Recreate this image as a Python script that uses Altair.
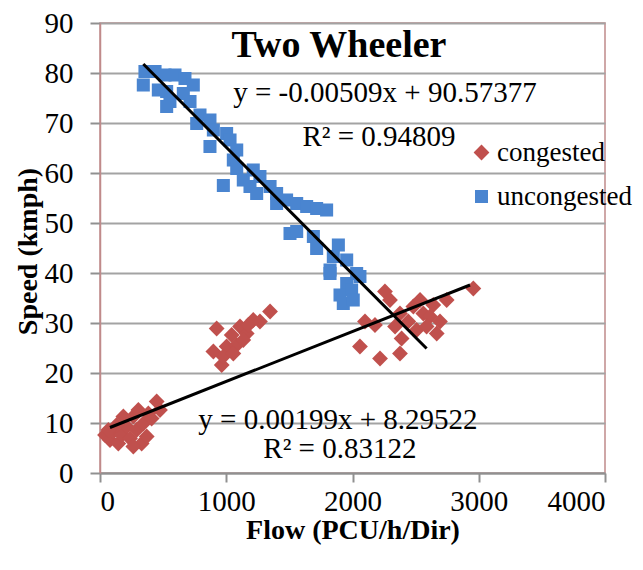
import altair as alt
import pandas as pd

# ---- data ----
unc_flow = [356, 343, 436, 515, 594, 673, 739, 528, 554, 528, 660, 713, 462,
            792, 766, 871, 898, 1003, 1030, 871, 1083, 1056, 1083, 977, 1135,
            1214, 1267, 1188, 1241, 1347, 1399, 1478, 1558, 1637, 1716, 1795,
            1399, 1505, 1558, 1690, 1716, 1888, 1822, 1954, 2033, 1848, 1822,
            1954, 2059, 1901, 1993, 1927, 2006]
unc_speed = [80.3, 77.6, 80.3, 79.6, 79.6, 78.9, 77.6, 76.3, 74.3, 73.3, 75.9, 74.3, 76.6,
             71.6, 69.9, 70.6, 68.6, 67.9, 66.6, 65.3, 64.6, 62.6, 60.9, 57.5, 58.6,
             60.6, 59.3, 57.3, 55.9, 57.3, 55.9, 54.6, 53.9, 53.3, 52.9, 52.6,
             53.9, 47.9, 48.3, 47.3, 44.9, 45.6, 40.6, 42.6, 39.9, 43.3, 39.9,
             37.9, 39.3, 35.6, 36.6, 33.9, 34.6]

con_flow = [40, 79, 106, 145, 172, 211, 238, 264, 290, 330, 343, 383, 409, 449,
            475, 185, 132, 264, 370, 304, 66,
            924, 898, 964, 1003, 1043, 1083, 1109, 1162, 1214, 1347, 1135, 977,
            1056, 1175, 1267,
            2059, 2099, 2178, 2218, 2257, 2297, 2376, 2389, 2442, 2482, 2535,
            2561, 2614, 2640, 2667, 2693, 2746, 2957, 2508, 2376, 2587, 2337]
con_speed = [7.6, 6.6, 8.3, 5.9, 7.6, 9.3, 6.9, 11.3, 8.6, 5.9, 9.9, 11.9, 10.9, 14.3,
             12.6, 11.3, 9.6, 5.3, 7.3, 12.6, 8.6,
             28.9, 24.3, 21.6, 25.3, 27.6, 25.6, 29.3, 27.9, 30.6, 32.3, 26.6, 23.3,
             23.9, 29.6, 30.3,
             25.3, 30.3, 29.6, 22.9, 36.3, 34.6, 23.9, 26.9, 30.3, 33.3, 34.6,
             31.9, 31.3, 33.6, 27.9, 30.3, 34.6, 36.9, 28.6, 31.9, 29.3, 29.3]

# trend line end points (as drawn)
unc_trend_flow = [343, 2587]
unc_trend_speed = [81.8, 24.9]
con_trend_flow = [79, 2931]
con_trend_speed = [9.1, 37.6]

series_names = ["congested", "uncongested"]
series_colors = ["#c0504d", "#4a85d0"]
series_shapes = ["diamond", "square"]
series_sizes = [250, 170]

x_ticks = [0, 1000, 2000, 3000, 4000]
y_ticks = [0, 10, 20, 30, 40, 50, 60, 70, 80, 90]

chart_title = "Two Wheeler"
eq_unc = "y = -0.00509x + 90.57377"
r2_unc = "R\u00b2 = 0.94809"
eq_con = "y = 0.00199x + 8.29522"
r2_con = "R\u00b2 = 0.83122"

# ---- tables ----
pts = pd.concat([
    pd.DataFrame({"flow": con_flow, "speed": con_speed, "series": "congested"}),
    pd.DataFrame({"flow": unc_flow, "speed": unc_speed, "series": "uncongested"}),
], ignore_index=True)

trend = pd.concat([
    pd.DataFrame({"flow": con_trend_flow, "speed": con_trend_speed, "series": "congested"}),
    pd.DataFrame({"flow": unc_trend_flow, "speed": unc_trend_speed, "series": "uncongested"}),
], ignore_index=True)

SERIF = "Liberation Serif"

x_enc = alt.X("flow:Q",
              scale=alt.Scale(domain=[0, 4000], nice=False),
              axis=alt.Axis(values=x_ticks, format="d", title="Flow (PCU/h/Dir)", grid=False,
                            labelFont=SERIF, labelFontSize=29, labelColor="black",
                            titleFont=SERIF, titleFontSize=28, titleFontWeight="bold",
                            titleColor="black",
                            tickSize=9, labelPadding=5, domainColor="#909090",
                            domainWidth=2, tickColor="#909090", tickWidth=2,
                            titleY=65, titleBaseline="alphabetic"))
y_enc = alt.Y("speed:Q",
              scale=alt.Scale(domain=[0, 90], nice=False),
              axis=alt.Axis(values=y_ticks, format="d", title="Speed (kmph)", grid=True,
                            labelFont=SERIF, labelFontSize=29, labelColor="black",
                            titleFont=SERIF, titleFontSize=28, titleFontWeight="bold",
                            titleColor="black",
                            gridColor="#a3a3a3", gridWidth=2,
                            tickSize=10, labelPadding=17, domainColor="#c08a8a",
                            domainWidth=1.5, tickColor="#909090", tickWidth=2,
                            titleX=-64, titleY=228, titleAngle=270, titleAlign="center",
                            titleBaseline="alphabetic"))

leg = alt.Legend(title=None, orient="none", legendX=368, legendY=116,
                 labelFont=SERIF, labelFontSize=27, labelColor="black", labelLimit=400,
                 symbolSize=260, labelOffset=2, rowPadding=16,
                 padding=0, symbolStrokeWidth=0)

points = alt.Chart(pts).mark_point(filled=True, opacity=1).encode(
    x=x_enc,
    y=y_enc,
    color=alt.Color("series:N",
                    scale=alt.Scale(domain=series_names, range=series_colors),
                    legend=leg),
    shape=alt.Shape("series:N",
                    scale=alt.Scale(domain=series_names, range=series_shapes),
                    legend=leg),
    size=alt.Size("series:N",
                  scale=alt.Scale(domain=series_names, range=series_sizes),
                  legend=None),
)

lines = alt.Chart(trend).mark_line(color="black", strokeWidth=3).encode(
    x="flow:Q", y="speed:Q", detail="series:N"
)

def label(txt, fx, sy, size=29, weight="normal"):
    return alt.Chart().mark_text(font=SERIF, fontSize=size, fontWeight=weight,
                                 align="center", baseline="alphabetic",
                                 color="black").encode(
        x=alt.datum(fx), y=alt.datum(sy), text=alt.value(txt))

texts = [
    label(chart_title, 1893, 83.2, size=38, weight="bold"),
    label(eq_unc, 2257, 74.2),
    label(r2_unc, 2210, 65.4),
    label(eq_con, 1885, 8.9),
    label(r2_con, 1900, 3.1),
]

chart = alt.layer(points, lines, *texts).properties(
    width=505, height=450,
    autosize=alt.AutoSizeParams(type="none"),
    padding={"left": 92, "top": 15, "right": 30, "bottom": 80},
).configure_view(
    stroke="#c08a8a", strokeWidth=1.5
)

chart.save("out.html", embed_options={"renderer": "svg", "actions": False})
